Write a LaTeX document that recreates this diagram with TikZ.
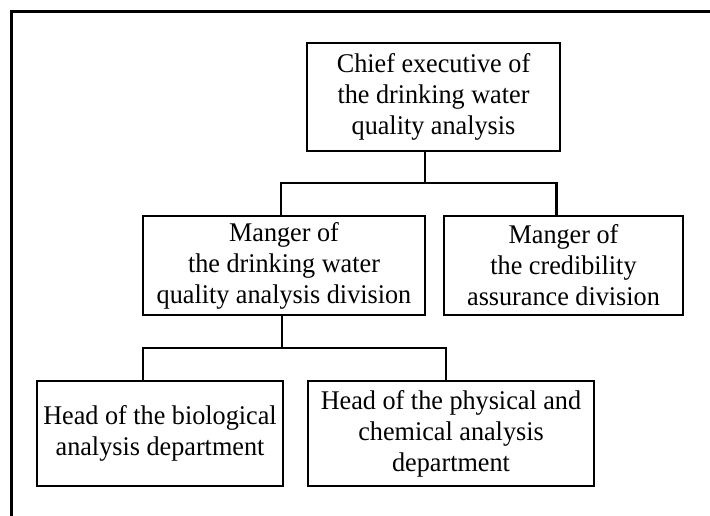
\documentclass[tikz,border=0pt]{standalone}
\usepackage{fontspec}
\setmainfont[FakeStretch=0.97]{Liberation Serif}
\begin{document}
\begin{tikzpicture}[x=1pt,y=-1pt,
  box/.style={draw,line width=2.9pt,rectangle,inner sep=0pt,align=center,
    font=\fontsize{27}{31}\selectfont},
  conn/.style={line width=2.9pt}]
\useasboundingbox (0,0) rectangle (710,516);
% outer frame (only top and left visible)
\draw[line width=3pt] (11,516) -- (11,12) -- (710,12);
% nodes
\node[box,minimum width=253pt,minimum height=108pt] (chief) at (433.5,97)
  {Chief executive of\\the drinking water\\quality analysis};
\node[box,minimum width=282pt,minimum height=99pt] (mgrA) at (284,265.5)
  {Manger of\\the drinking water\\quality analysis division};
\node[box,minimum width=239pt,minimum height=99pt] (mgrB) at (563.5,265.5)
  {Manger of\\the credibility\\assurance division};
\node[box,minimum width=246pt,minimum height=105pt] (headA) at (160,433.5)
  {Head of the biological\\analysis department};
\node[box,minimum width=286pt,minimum height=105pt] (headB) at (451,433.5)
  {Head of the physical and\\chemical analysis\\department};
% junction coordinates
\coordinate (busA) at (425,183);
\coordinate (busB) at (282,348);
% connectors
\draw[conn] (chief.south -| busA) -- (busA);
\draw[conn] ([xshift=-3pt]mgrA.north) -- ([xshift=-3pt]mgrA.north |- busA)
  -- ([xshift=-7pt]mgrB.north |- busA) -- ([xshift=-7pt]mgrB.north);
\draw[conn] (mgrA.south -| busB) -- (busB);
\draw[conn] ([xshift=-17pt]headA.north) -- ([xshift=-17pt]headA.north |- busB)
  -- ([xshift=-5pt]headB.north |- busB) -- ([xshift=-5pt]headB.north);
\end{tikzpicture}
\end{document}
